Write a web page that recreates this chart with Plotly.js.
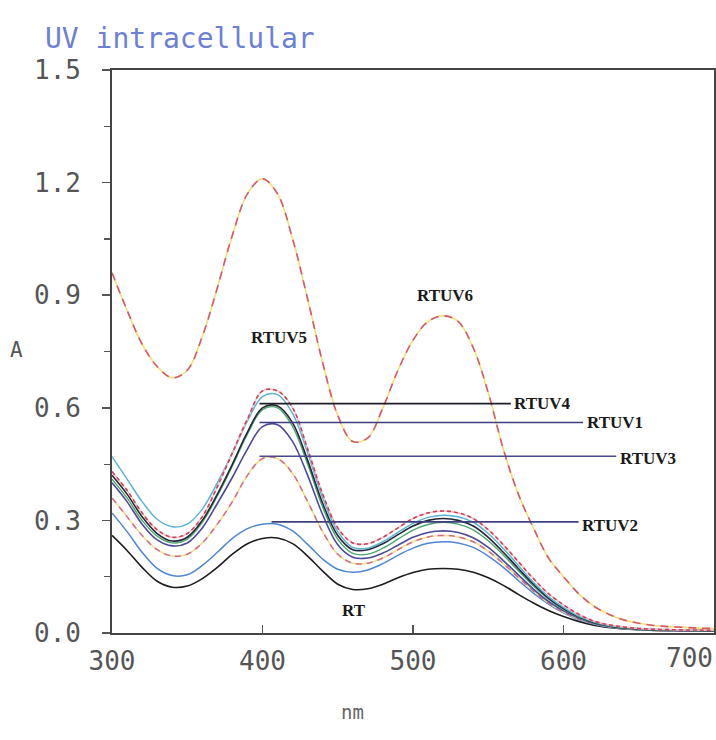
<!DOCTYPE html>
<html>
<head>
<meta charset="utf-8">
<script src="https://cdn.plot.ly/plotly-3.0.1.min.js"></script>
<style>
html,body{margin:0;padding:0;background:#fff;}
#chart{width:716px;height:740px;}
</style>
</head>
<body>
<div id="chart"></div>
<script>
// wavelength grid (nm)
const wavelength = [300,310,320,330,340,350,360,370,380,390,400,410,420,430,440,450,460,470,480,490,500,510,520,530,540,550,560,570,580,590,600,610,620,630,640,650,660,670,680,690,700];

const RTUV6 = [0.96,0.86,0.77,0.71,0.68,0.70,0.79,0.92,1.06,1.17,1.21,1.17,1.05,0.89,0.72,0.58,0.51,0.52,0.60,0.70,0.78,0.83,0.845,0.83,0.76,0.64,0.49,0.37,0.28,0.20,0.15,0.105,0.072,0.05,0.035,0.026,0.02,0.017,0.015,0.013,0.012];
const RTUV5 = [0.43,0.38,0.32,0.275,0.255,0.265,0.31,0.39,0.48,0.57,0.645,0.645,0.60,0.49,0.37,0.28,0.24,0.238,0.255,0.28,0.305,0.32,0.325,0.32,0.305,0.275,0.235,0.19,0.145,0.105,0.075,0.05,0.032,0.022,0.016,0.012,0.01,0.009,0.008,0.008,0.007];
const sampleCyan = [0.47,0.41,0.35,0.303,0.283,0.29,0.33,0.40,0.48,0.565,0.63,0.635,0.585,0.48,0.36,0.27,0.228,0.226,0.243,0.268,0.292,0.308,0.314,0.31,0.295,0.265,0.225,0.18,0.135,0.097,0.068,0.045,0.03,0.02,0.015,0.012,0.01,0.009,0.008,0.008,0.007];
const RTUV4 = [0.42,0.37,0.31,0.265,0.245,0.255,0.30,0.37,0.45,0.535,0.60,0.605,0.56,0.46,0.345,0.26,0.222,0.222,0.238,0.262,0.285,0.30,0.305,0.30,0.285,0.255,0.215,0.172,0.13,0.093,0.065,0.043,0.028,0.019,0.014,0.011,0.009,0.008,0.007,0.007,0.006];
const sampleGreen = [0.41,0.36,0.30,0.258,0.24,0.25,0.295,0.365,0.445,0.53,0.595,0.60,0.55,0.45,0.335,0.25,0.212,0.21,0.226,0.25,0.274,0.289,0.295,0.29,0.275,0.246,0.208,0.166,0.125,0.09,0.063,0.042,0.027,0.018,0.013,0.01,0.008,0.007,0.007,0.006,0.006];
const RTUV1 = [0.40,0.35,0.29,0.248,0.232,0.24,0.28,0.345,0.415,0.49,0.55,0.555,0.51,0.42,0.315,0.235,0.202,0.20,0.213,0.234,0.255,0.268,0.272,0.268,0.254,0.228,0.193,0.155,0.117,0.084,0.059,0.04,0.026,0.018,0.013,0.01,0.008,0.007,0.006,0.006,0.006];
const RTUV3 = [0.36,0.31,0.26,0.222,0.205,0.21,0.24,0.29,0.35,0.42,0.465,0.465,0.425,0.35,0.27,0.21,0.186,0.186,0.20,0.222,0.243,0.256,0.26,0.256,0.243,0.218,0.185,0.148,0.112,0.08,0.056,0.038,0.025,0.017,0.012,0.01,0.008,0.007,0.006,0.006,0.006];
const RTUV2 = [0.32,0.27,0.215,0.172,0.153,0.155,0.18,0.215,0.252,0.278,0.29,0.29,0.272,0.236,0.197,0.17,0.162,0.168,0.185,0.207,0.226,0.239,0.243,0.24,0.228,0.205,0.175,0.14,0.106,0.077,0.054,0.036,0.024,0.016,0.012,0.009,0.008,0.007,0.006,0.006,0.005];
const RT = [0.26,0.22,0.175,0.138,0.122,0.125,0.145,0.175,0.21,0.238,0.252,0.253,0.238,0.205,0.165,0.13,0.116,0.118,0.13,0.147,0.161,0.17,0.172,0.17,0.162,0.147,0.127,0.103,0.08,0.06,0.044,0.031,0.021,0.015,0.011,0.009,0.007,0.006,0.006,0.005,0.005];

const xTicks = [300,400,500,600,700];
const xTickText = ['300','400','500','600','700'];
const yTicks = [0.0,0.3,0.6,0.9,1.2,1.5];
const yTickText = ['0.0','0.3','0.6','0.9','1.2','1.5'];

function line(y, color, width, dash, name){
  return {x: wavelength, y: y, type:'scatter', mode:'lines', name: name,
    line:{color:color, width:width, dash:dash||'solid', shape:'spline', smoothing:1.0},
    hoverinfo:'skip', showlegend:false};
}

const traces = [
  line(RT, '#1e1e1e', 1.6, 'solid', 'RT'),
  line(RTUV2, '#4f86d6', 1.5, 'solid', 'RTUV2'),
  line(RTUV3, '#f1de86', 1.5, 'solid', 'RTUV3 base'),
  line(RTUV3, '#d46a8c', 1.5, '6px,5px', 'RTUV3'),
  line(RTUV1, '#4a4a9a', 1.6, 'solid', 'RTUV1'),
  line(sampleGreen, '#4aa870', 1.4, 'solid', 'green'),
  line(RTUV4, '#262636', 1.6, 'solid', 'RTUV4'),
  line(sampleCyan, '#5ab4d6', 1.5, 'solid', 'cyan'),
  line(RTUV5, '#f0c0c8', 1.5, 'solid', 'RTUV5 base'),
  line(RTUV5, '#cc4458', 1.6, '4px,3px', 'RTUV5'),
  line(RTUV6, '#f4e07a', 1.6, 'solid', 'RTUV6 base'),
  line(RTUV6, '#d45a70', 1.6, '8px,6px', 'RTUV6')
];

// peak of the first absorption band (380-440 nm)
function peakOf(arr){
  let m = -1, idx = 0;
  arr.forEach((v,i)=>{ if(wavelength[i] >= 380 && wavelength[i] <= 440 && v > m){ m = v; idx = i; } });
  return {x: wavelength[idx], y: m};
}

const leaders = [
  {data: RTUV4, x0: 398, x1: 565, color:'#1e1e2a'},
  {data: RTUV1, x0: 398, x1: 613, color:'#3f3f80'},
  {data: RTUV3, x0: 398, x1: 635, color:'#4a4a90'},
  {data: RTUV2, x0: 406, x1: 610, color:'#3f3f80'}
];
const shapes = leaders.map(l => {
  const p = peakOf(l.data);
  return {type:'line', xref:'x', yref:'y', x0:l.x0, x1:l.x1, y0:p.y+0.006, y1:p.y+0.006,
    line:{color:l.color, width:1.6}};
});

const labelFont = {family:'Liberation Serif, serif', size:17, color:'#1a1a1a'};
const annotations = [
  {x:566, y:0.611, text:'<b>RTUV4</b>', xanchor:'left'},
  {x:614, y:0.561, text:'<b>RTUV1</b>', xanchor:'left'},
  {x:636, y:0.466, text:'<b>RTUV3</b>', xanchor:'left'},
  {x:611, y:0.287, text:'<b>RTUV2</b>', xanchor:'left'},
  {x:411, y:0.787, text:'<b>RTUV5</b>', xanchor:'center'},
  {x:521, y:0.90, text:'<b>RTUV6</b>', xanchor:'center'},
  {x:461, y:0.059, text:'<b>RT</b>', xanchor:'center'}
].map(a => Object.assign({xref:'x', yref:'y', showarrow:false, yanchor:'middle', font:labelFont}, a));

const tickFont = {family:'DejaVu Sans Mono, monospace', size:26, color:'#555'};

annotations.push({xref:'paper', yref:'paper', x:-0.158, y:0.502, text:'A', showarrow:false,
  xanchor:'center', yanchor:'middle', font:{family:'DejaVu Sans Mono, monospace', size:21, color:'#555'}});
annotations.push({xref:'paper', yref:'paper', x:0.40, y:-0.14, text:'nm', showarrow:false,
  xanchor:'center', yanchor:'middle', font:{family:'DejaVu Sans Mono, monospace', size:19, color:'#666'}});
// last x tick label, kept inside the page's right edge
annotations.push({xref:'paper', yref:'paper', x:1.0, xshift:1, y:0, yshift:-8, text:xTickText[4], showarrow:false,
  xanchor:'right', yanchor:'top', font:tickFont});

const layout = {
  width:716, height:740,
  margin:{l:112, r:2, t:70, b:107},
  paper_bgcolor:'#fff', plot_bgcolor:'#fff',
  showlegend:false,
  title:{text:'UV intracellular', x:45/716, xref:'container', xanchor:'left', y:1-38/740, yref:'container', yanchor:'middle',
    font:{family:'DejaVu Sans Mono, monospace', size:28, color:'#6b80d6'}},
  xaxis:{range:[300,700], tickvals:xTicks, ticktext:xTickText.map((t,i)=> i===4 ? ' ' : t), ticks:'inside', ticklen:8, tickwidth:1.5,
    tickcolor:'#555', showline:true, linecolor:'#444', linewidth:1.8, mirror:true, showgrid:false, zeroline:false,
    tickfont:tickFont, ticklabelstandoff:4},
  yaxis:{range:[0,1.5], tickvals:yTicks, ticktext:yTickText, ticks:'outside', ticklen:8, tickwidth:1.5,
    tickcolor:'#555', showline:true, linecolor:'#444', linewidth:1.8, mirror:true, showgrid:false, zeroline:false,
    tickfont:tickFont, ticklabelstandoff:16,
    minor:{dtick:0.15, tick0:0, ticks:'outside', ticklen:6, tickwidth:1.2, tickcolor:'#555', showgrid:false}},
  shapes: shapes,
  annotations: annotations
};

Plotly.newPlot('chart', traces, layout, {staticPlot:true, displayModeBar:false});
</script>
</body>
</html>
